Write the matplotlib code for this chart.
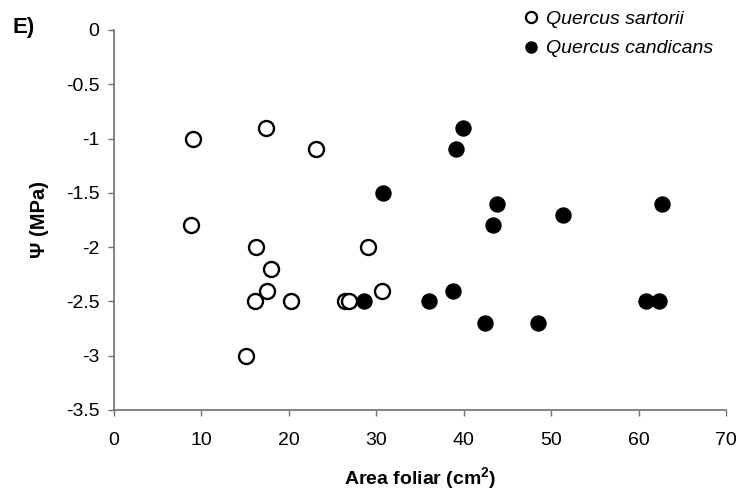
import matplotlib
matplotlib.use("Agg")
import matplotlib.pyplot as plt
from matplotlib.lines import Line2D

# Quercus sartorii (open circles)
sartorii_area = [9.0, 17.4, 23.1, 8.8, 16.2, 18.0, 17.5, 16.1, 20.2, 26.4, 26.9, 15.1, 29.0, 30.7]
sartorii_psi = [-1.0, -0.9, -1.1, -1.8, -2.0, -2.2, -2.4, -2.5, -2.5, -2.5, -2.5, -3.0, -2.0, -2.4]

# Quercus candicans (filled circles)
candicans_area = [39.9, 39.1, 30.8, 43.8, 43.3, 51.4, 62.7, 28.6, 36.0, 38.8, 42.4, 48.5, 60.8, 62.3]
candicans_psi = [-0.9, -1.1, -1.5, -1.6, -1.8, -1.7, -1.6, -2.5, -2.5, -2.4, -2.7, -2.7, -2.5, -2.5]

x_ticks = [0, 10, 20, 30, 40, 50, 60, 70]
y_ticks = [0, -0.5, -1, -1.5, -2, -2.5, -3, -3.5]

plt.rcParams['font.family'] = ['Liberation Sans', 'DejaVu Sans']
plt.rcParams['font.size'] = 14

AXIS = '#707070'

fig = plt.figure(figsize=(7.41, 5.0), dpi=100)
ax = fig.add_axes([0.1538, 0.18, 0.826, 0.76])

ax.plot(sartorii_area, sartorii_psi, 'o', ms=10.8, mfc='white', mec='black',
        mew=1.7, clip_on=False, zorder=3)
ax.plot(candicans_area, candicans_psi, 'o', ms=10.8, mfc='black', mec='black',
        mew=1.0, clip_on=False, zorder=3)

ax.set_xlim(0, 70)
ax.set_ylim(-3.5, 0)
ax.set_xticks(x_ticks)
ax.set_xticklabels([str(v) for v in x_ticks])
ax.set_yticks(y_ticks)
ax.set_yticklabels(['0', '-0.5', '-1', '-1.5', '-2', '-2.5', '-3', '-3.5'])

for s in ['top', 'right']:
    ax.spines[s].set_visible(False)
for s in ['left', 'bottom']:
    ax.spines[s].set_color(AXIS)
    ax.spines[s].set_linewidth(1.2)
ax.tick_params(axis='both', direction='out', length=4.5, width=1.0,
               color=AXIS, labelsize=14, pad=4)
ax.tick_params(axis='x', pad=11)
ax.tick_params(axis='y', pad=6)

ax.set_xlabel('Area foliar (cm$^\\mathregular{2}$)', fontsize=14, fontweight='bold', labelpad=12)
ax.set_ylabel('Ψ (MPa)', fontsize=14.5, fontweight='bold', labelpad=12)

fig.text(0.017, 0.946, 'E)', fontsize=16, fontweight='bold', ha='left', va='center')

handles = [
    Line2D([], [], ls='none', marker='o', ms=8, mfc='white', mec='black', mew=1.6),
    Line2D([], [], ls='none', marker='o', ms=8, mfc='black', mec='black'),
]
fig.legend(handles, ['Quercus sartorii', 'Quercus candicans'],
           loc='upper left', bbox_to_anchor=(0.688, 1.01), frameon=False,
           prop={'style': 'italic', 'size': 14}, handlelength=0.6,
           handletextpad=0.45, labelspacing=0.6, borderpad=0.3)

fig.savefig('out.png', dpi=100, facecolor='white')
